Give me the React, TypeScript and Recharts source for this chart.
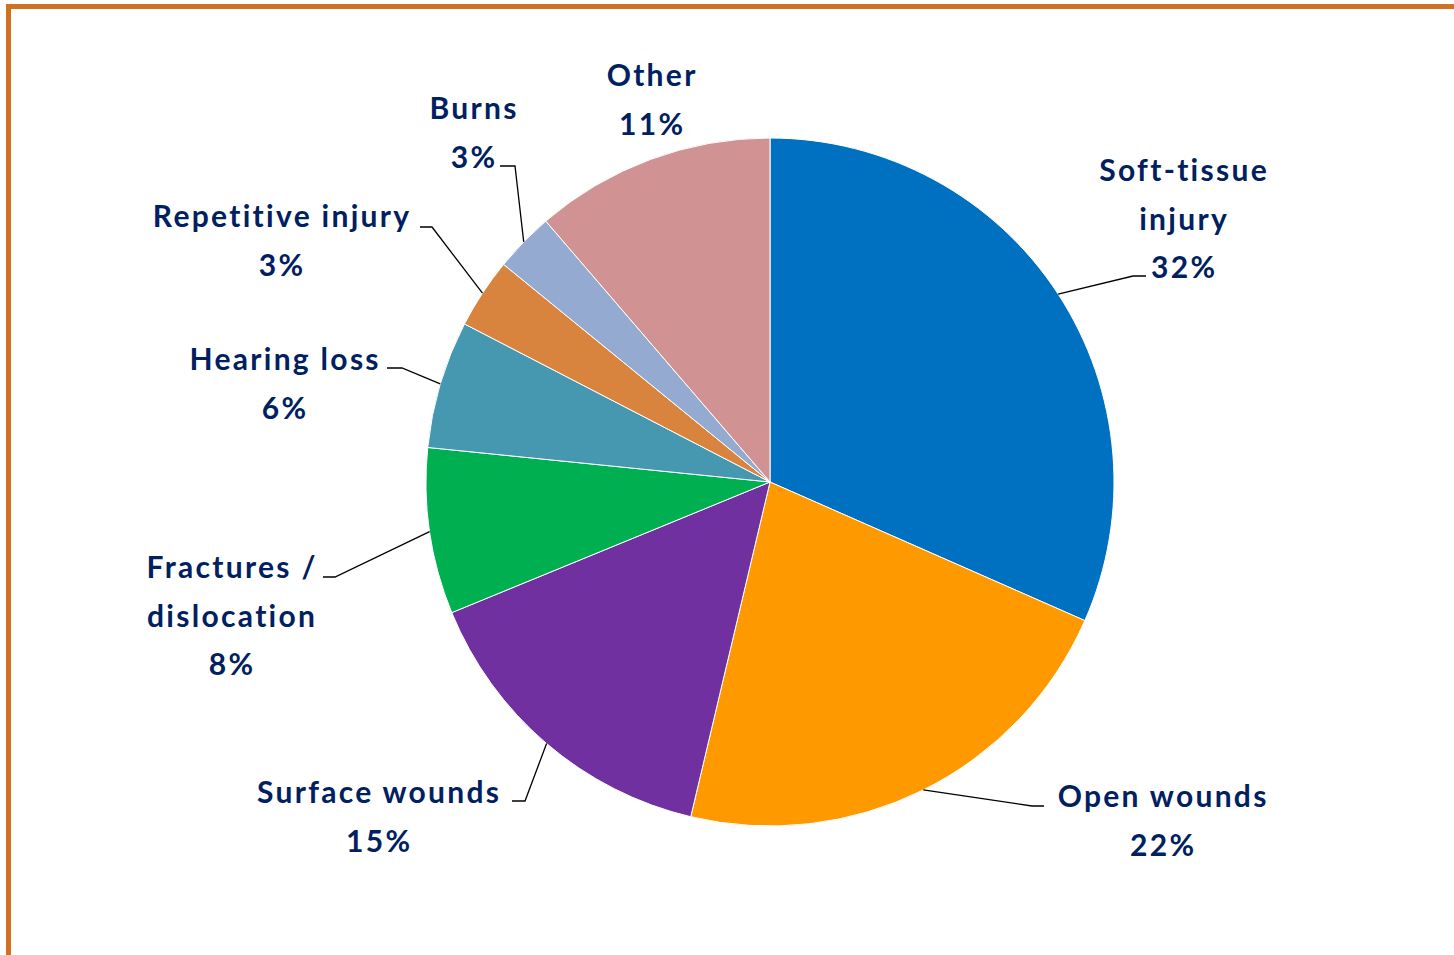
import { PieChart, Pie, Cell } from 'recharts';

// Injury types and their share (%)
const categories = [
  'Soft-tissue injury',
  'Open wounds',
  'Surface wounds',
  'Fractures / dislocation',
  'Hearing loss',
  'Repetitive injury',
  'Burns',
  'Other',
];
const shares = [31.6, 22.1, 15.1, 7.8, 6.0, 3.3, 2.8, 11.3];
// How each label is broken into lines
const labelLines = [
  ['Soft-tissue', 'injury'],
  ['Open wounds'],
  ['Surface wounds'],
  ['Fractures /', 'dislocation'],
  ['Hearing loss'],
  ['Repetitive injury'],
  ['Burns'],
  ['Other'],
];

const COLORS = ['#0070C0', '#FF9900', '#7030A0', '#00B050', '#4598B0', '#D9843E', '#95AAD0', '#D09292'];

// label placement relative to the pie centre: text centre (tx, ty of first line),
// leader end (lx, ly) and the short horizontal elbow (ex)
const labelLayout = [
  { tx: 413, ty: -313, lx: 376, ly: -206, ex: -13 },
  { tx: 392, ty: 313, lx: 274, ly: 324, ex: -12 },
  { tx: -392, ty: 309, lx: -258, ly: 319, ex: 13 },
  { tx: -539, ty: 84, lx: -447, ly: 95, ex: 12 },
  { tx: -486, ty: -124, lx: -383, ly: -114, ex: 15 },
  { tx: -489, ty: -267, lx: -350, ly: -255, ex: 12 },
  { tx: -297, ty: -375, lx: -270, ly: -316, ex: 15 },
  { tx: -119, ty: -408, lx: 0, ly: 0, ex: 0 },
];

const data = categories.map((name, i) => ({ name, value: shares[i] }));

const RADIAN = Math.PI / 180;
const LINE_H = 48.5;
const SPACING = 2.3;

const renderLabel = (props: any) => {
  const { cx, cy, midAngle, outerRadius, percent, index } = props;
  const lay = labelLayout[index];
  const lines = [...labelLines[index], `${Math.round(percent * 100)}%`];
  const sx = cx + outerRadius * Math.cos(-midAngle * RADIAN);
  const sy = cy + outerRadius * Math.sin(-midAngle * RADIAN);
  const endX = cx + lay.lx;
  const endY = cy + lay.ly;
  return (
    <g key={`lbl-${index}`}>
      {lay.ex !== 0 && (
        <polyline
          points={`${sx},${sy} ${endX + lay.ex},${endY} ${endX},${endY}`}
          fill="none"
          stroke="#000"
          strokeWidth={1.3}
        />
      )}
      {lines.map((t, i) => (
        <text
          key={i}
          x={cx + lay.tx + SPACING / 2}
          y={cy + lay.ty + i * LINE_H}
          textAnchor="middle"
          dominantBaseline="central"
          fill="#002060"
          fontFamily="Lato, 'Open Sans', sans-serif"
          fontWeight={700}
          fontSize={30}
          letterSpacing={SPACING}
        >
          {t}
        </text>
      ))}
    </g>
  );
};

export default function App() {
  return (
    <div style={{ position: 'absolute', left: 0, top: 0, width: 1454, height: 955, background: '#fff', overflow: 'hidden' }}>
      <div
        style={{
          position: 'absolute',
          left: 6,
          top: 4,
          right: 0,
          bottom: 0,
          borderTop: '5px solid #D0711F',
          borderLeft: '5px solid #D0711F',
        }}
      />
      <div style={{ position: 'absolute', left: 0, top: 0 }}>
        <PieChart width={1454} height={955} margin={{ top: 0, right: 0, bottom: 0, left: 0 }}>
          <Pie
            data={data}
            dataKey="value"
            nameKey="name"
            cx={770}
            cy={482}
            outerRadius={344}
            startAngle={90}
            endAngle={-270}
            stroke="#fff"
            strokeWidth={1}
            label={renderLabel}
            labelLine={false}
            isAnimationActive={false}
          >
            {data.map((entry, index) => (
              <Cell key={`cell-${index}`} fill={COLORS[index % COLORS.length]} />
            ))}
          </Pie>
        </PieChart>
      </div>
    </div>
  );
}
